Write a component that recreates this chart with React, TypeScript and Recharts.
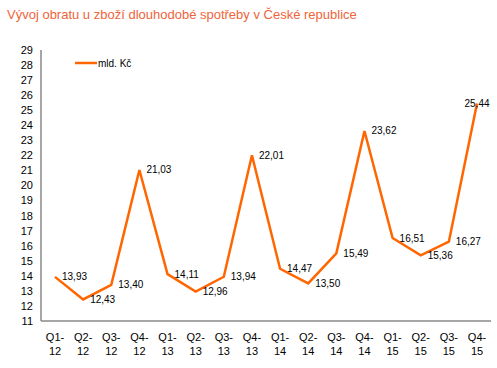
import React from 'react';
import { LineChart, Line, XAxis, YAxis, LabelList } from 'recharts';

const quarters = ['Q1-', 'Q2-', 'Q3-', 'Q4-', 'Q1-', 'Q2-', 'Q3-', 'Q4-', 'Q1-', 'Q2-', 'Q3-', 'Q4-', 'Q1-', 'Q2-', 'Q3-', 'Q4-'];
const years = ['12', '12', '12', '12', '13', '13', '13', '13', '14', '14', '14', '14', '15', '15', '15', '15'];
const values = [13.93, 12.43, 13.40, 21.03, 14.11, 12.96, 13.94, 22.01, 14.47, 13.50, 15.49, 23.62, 16.51, 15.36, 16.27, 25.44];
const yTicks = [11, 12, 13, 14, 15, 16, 17, 18, 19, 20, 21, 22, 23, 24, 25, 26, 27, 28, 29];
const seriesName = 'mld. Kč';
const title = 'Vývoj obratu u zboží dlouhodobé spotřeby v České republice';

const data = values.map((v, i) => ({ cat: `${quarters[i]}${years[i]}`, q: quarters[i], y: years[i], value: v }));

const FONT = '"Liberation Sans", Arial, sans-serif';
const ORANGE = '#FF6600';

const XTick = (props: any) => {
  const { x, y, index } = props;
  return (
    <text x={x} y={y} textAnchor="middle" fontFamily={FONT} fontSize={11} fill="#000">
      <tspan x={x} dy={12}>{quarters[index]}</tspan>
      <tspan x={x} dy={14}>{years[index]}</tspan>
    </text>
  );
};

const ValueLabel = (props: any) => {
  const { x, y, value, index } = props;
  const last = index === values.length - 1;
  return (
    <text x={last ? x : x + 7} y={y} textAnchor={last ? 'middle' : 'start'} dominantBaseline="central" fontFamily={FONT} fontSize={10} fill="#000">
      {Number(value).toFixed(2).replace('.', ',')}
    </text>
  );
};

export default function App() {
  return (
    <div style={{ position: 'absolute', left: 0, top: 0, width: 497, height: 368, background: '#fff' }}>
      <div style={{ position: 'absolute', left: 7, top: 7, fontFamily: FONT, fontSize: 13, color: '#F0643A', lineHeight: '16px', whiteSpace: 'nowrap' }}>
        {title}
      </div>
      <LineChart width={497} height={368} data={data} margin={{ top: 50, right: 6, bottom: 0, left: 0 }}>
        <XAxis dataKey="cat" interval={0} tickLine={false} axisLine={{ stroke: '#888', strokeWidth: 1.5 }} tick={<XTick />} height={47} padding={{ left: 14, right: 14 }} />
        <YAxis domain={[11, 29]} ticks={yTicks} interval={0} tickLine={false} axisLine={{ stroke: '#888', strokeWidth: 1.5 }} width={41} tick={{ fontFamily: FONT, fontSize: 11, fill: '#000' }} />
        <Line type="linear" dataKey="value" name={seriesName} stroke={ORANGE} strokeWidth={2.5} dot={false} isAnimationActive={false}>
          <LabelList dataKey="value" content={<ValueLabel />} />
        </Line>
      </LineChart>
      <svg style={{ position: 'absolute', left: 75, top: 56 }} width={80} height={14}>
        <line x1={0} y1={7} x2={22} y2={7} stroke={ORANGE} strokeWidth={2.5} />
        <text x={23} y={7} dominantBaseline="central" fontFamily={FONT} fontSize={10} fill="#000">{seriesName}</text>
      </svg>
    </div>
  );
}
